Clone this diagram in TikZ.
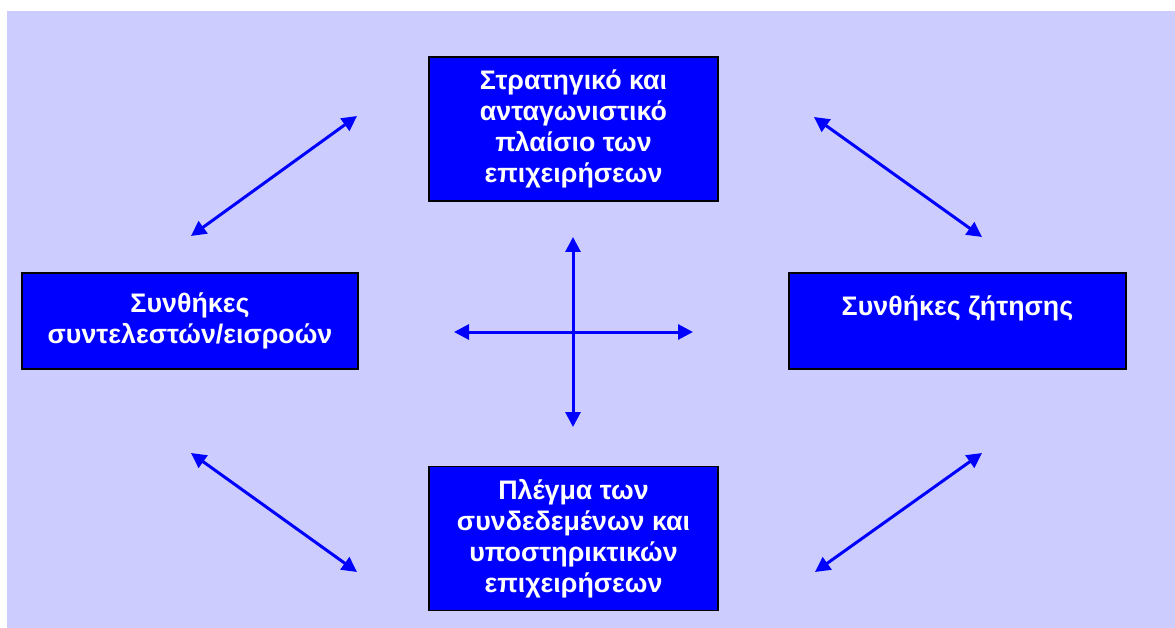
\documentclass[tikz,border=0pt]{standalone}
\usepackage{fontspec}
\setmainfont{Liberation Sans}
\usepackage{tikz}
\usetikzlibrary{positioning,arrows.meta}
\definecolor{lavender}{RGB}{204,204,255}
\definecolor{boxblue}{RGB}{0,0,255}

\tikzset{
	factor/.style={draw=black, line width=1.5pt, fill=boxblue, text=white, align=center, inner sep=0pt,
		font=\fontsize{26.8}{31}\selectfont\bfseries},
	twoway/.style={<->, >={Triangle[length=15pt,width=15pt]}, line width=3pt, boxblue}
}

\begin{document}
\begin{tikzpicture}[x=1pt, y=-1pt]
	\useasboundingbox (0,0) rectangle (1175,628);
	\fill[lavender] (7,11) rectangle (1175,628);

	\node[factor, minimum width=289pt, minimum height=144pt] (strat) at (573.5,129) {Στρατηγικό και\\ανταγωνιστικό\\πλαίσιο των\\επιχειρήσεων};
	\node[factor, minimum width=289pt, minimum height=144pt, below=264pt of strat] (net) {Πλέγμα των\\συνδεδεμένων και\\υποστηρικτικών\\επιχειρήσεων};
	\node[factor, minimum width=336pt, minimum height=96pt] (input) at (190,321) {Συνθήκες\\συντελεστών/εισροών};
	\node[factor, minimum width=337pt, minimum height=96pt] (demand) at (957.5,321) {Συνθήκες ζήτησης\\\mbox{}};

	% free ends of the arrows
	\coordinate (tl1) at (191,236);
	\coordinate (tl2) at (357,116);
	\coordinate (tr1) at (814,117);
	\coordinate (tr2) at (982,237);
	\coordinate (bl1) at (191,453);
	\coordinate (bl2) at (357,572);
	\coordinate (br1) at (815,572);
	\coordinate (br2) at (982,453);
	\coordinate (hub) at (573,332);
	\coordinate (up) at ([yshift=95pt] hub);
	\coordinate (down) at ([yshift=-95pt] hub);
	\coordinate (west) at ([xshift=-119pt] hub);
	\coordinate (east) at ([xshift=120pt] hub);

	\draw[twoway] (tl1) -- (tl2);
	\draw[twoway] (tr1) -- (tr2);
	\draw[twoway] (bl1) -- (bl2);
	\draw[twoway] (br1) -- (br2);
	\draw[twoway] (down) -- (up);
	\draw[twoway] (west) -- (east);
\end{tikzpicture}
\end{document}
